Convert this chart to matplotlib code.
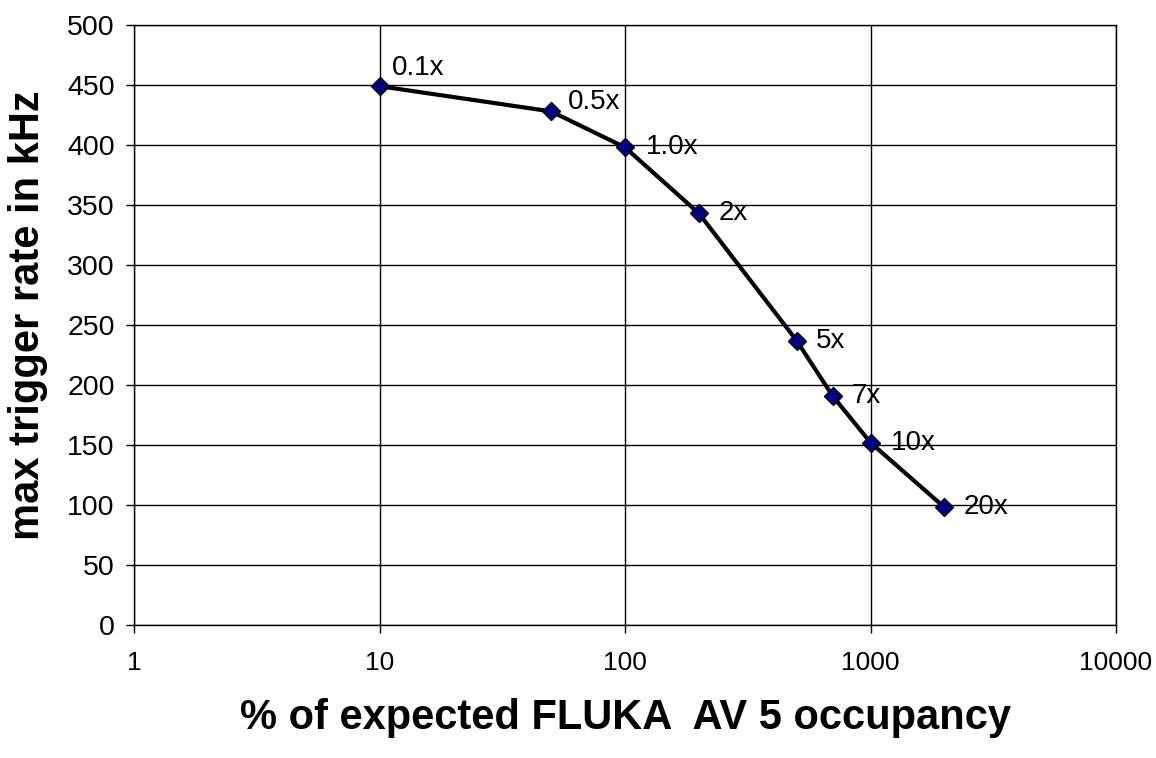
import matplotlib
matplotlib.use("Agg")
import matplotlib.pyplot as plt
from matplotlib.ticker import FixedLocator, FixedFormatter, NullLocator

plt.rcParams['font.family'] = ['Liberation Sans', 'DejaVu Sans']

# data
occupancy = [10, 50, 100, 200, 500, 700, 1000, 2000]
rate = [449, 428, 398, 343, 237, 191, 152, 98]
labels = ['0.1x', '0.5x', '1.0x', '2x', '5x', '7x', '10x', '20x']
xticks = [1, 10, 100, 1000, 10000]
yticks = [0, 50, 100, 150, 200, 250, 300, 350, 400, 450, 500]

# label offsets in points (right, up)
offs = [(9, 13), (12, 7), (15, 0), (14, 0), (14, 0), (14, 0), (15, 0), (14, 0)]

fig = plt.figure(figsize=(11.56, 7.58), dpi=100)
ax = fig.add_axes([0.116, 0.1755, 0.8494, 0.7915])

ax.plot(occupancy, rate, color='black', linewidth=3, marker='D',
        markersize=9, markerfacecolor='#000080', markeredgecolor='black',
        markeredgewidth=1, zorder=3)
for x, y, t, o in zip(occupancy, rate, labels, offs):
    ax.annotate(t, (x, y), xytext=o, textcoords='offset points',
                fontsize=20, va='center', ha='left')

ax.set_xscale('log')
ax.set_xlim(1, 10000)
ax.set_ylim(0, 500)
ax.xaxis.set_major_locator(FixedLocator(xticks))
ax.xaxis.set_major_formatter(FixedFormatter([str(v) for v in xticks]))
ax.xaxis.set_minor_locator(NullLocator())
ax.set_yticks(yticks)
ax.grid(True, color='black', linewidth=1)
ax.set_axisbelow(True)
for s in ax.spines.values():
    s.set_linewidth(1)
ax.tick_params(axis='both', direction='out', length=6, width=1)
ax.tick_params(axis='x', pad=13, labelsize=19)
ax.tick_params(axis='y', pad=8, labelsize=20.5)

ax.set_xlabel('% of expected FLUKA  AV 5 occupancy', fontsize=30,
              fontweight='bold', labelpad=16)
ax.set_ylabel('max trigger rate in kHz', fontsize=30, fontweight='bold')
ax.yaxis.set_label_coords(-0.088, 0.517)

fig.savefig('out.png', dpi=100)
